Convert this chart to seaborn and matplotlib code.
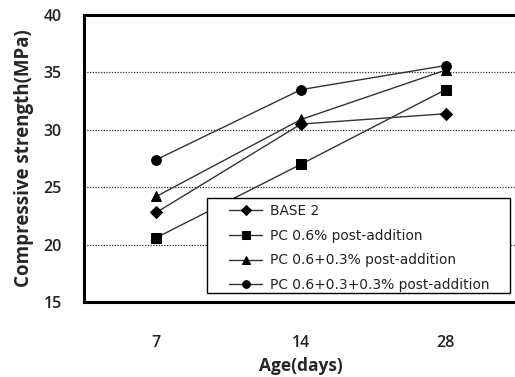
import matplotlib
matplotlib.use("Agg")
import matplotlib.pyplot as plt
from matplotlib.ticker import FixedLocator
from matplotlib.patches import Rectangle
import seaborn as sns
import pandas as pd

ages = ["7", "14", "28"]
series_names = [
    "BASE 2",
    "PC 0.6% post-addition",
    "PC 0.6+0.3% post-addition",
    "PC 0.6+0.3+0.3% post-addition",
]
base2 = [22.8, 30.5, 31.4]
pc06 = [20.6, 27.0, 33.5]
pc06_03 = [24.2, 30.9, 35.2]
pc06_03_03 = [27.4, 33.5, 35.6]
y_ticks = [15, 20, 25, 30, 35, 40]

values = [base2, pc06, pc06_03, pc06_03_03]
rows = []
for name, vals in zip(series_names, values):
    for i, (age, v) in enumerate(zip(ages, vals)):
        rows.append({"pos": i, "age": age, "strength": v, "series": name})
df = pd.DataFrame(rows)

sns.set_style("white")
plt.rcParams["font.family"] = ["Open Sans", "DejaVu Sans"]

W, H = 515, 377
fig = plt.figure(figsize=(W / 100, H / 100), dpi=100)
ax = fig.add_axes([84 / W, 1 - 302 / H, 434 / W, 287 / H])

markers = {series_names[0]: "D", series_names[1]: "s",
           series_names[2]: "^", series_names[3]: "o"}
sizes = {series_names[0]: 6, series_names[1]: 7.5, series_names[2]: 7,
         series_names[3]: 7}
for name in series_names:
    sub = df[df["series"] == name]
    sns.lineplot(data=sub, x="pos", y="strength", ax=ax, color="black",
                 linewidth=1.0, marker=markers[name], markersize=sizes[name],
                 markeredgecolor="black", markerfacecolor="black",
                 label=name, alpha=1.0)
for line in ax.get_lines():
    line.set_color("#333333")
    line.set_markerfacecolor("black")
    line.set_markeredgecolor("black")

ax.set_xlim(-0.5, 2.5)
ax.set_ylim(15, 40)
ax.set_xticks(range(len(ages)))
ax.set_xticklabels(ages)
ax.xaxis.set_minor_locator(FixedLocator([0.5, 1.5]))
ax.set_yticks(y_ticks)

for y in y_ticks[1:-1]:
    ax.axhline(y, color="#333333", linestyle=(0, (1, 1.2)), linewidth=0.9,
               zorder=0)

for side in ["left", "bottom", "top"]:
    ax.spines[side].set_linewidth(2.2)
    ax.spines[side].set_color("black")
ax.spines["right"].set_visible(False)

ax.tick_params(axis="y", which="major", direction="out", length=7, width=1.2,
               labelsize=11.5, pad=9, colors="#222222")
ax.tick_params(axis="x", which="major", direction="inout", length=12, width=1.2,
               labelsize=11.5, pad=18, colors="#222222")
ax.tick_params(axis="x", which="minor", direction="in", length=6, width=1.2)
for lbl in ax.get_xticklabels() + ax.get_yticklabels():
    lbl.set_fontweight("semibold")
    lbl.set_color("#222222")

ax.set_xlabel("Age(days)", fontsize=12.5, fontweight="bold", labelpad=4)
ax.set_ylabel("Compressive strength(MPa)", fontsize=13.5, fontweight="bold",
              labelpad=7)

# legend: white framed panel with the entries placed inside it
handles, labels = ax.get_legend_handles_labels()
ax.get_legend().remove()

box = Rectangle((207 / W, 1 - 293 / H), 303 / W, 95 / H,
                transform=fig.transFigure, facecolor="white",
                edgecolor="black", linewidth=1.0, zorder=5)
fig.patches.append(box)

leg = fig.legend(handles, labels, loc="upper left",
                 bbox_to_anchor=(229 / W, 1 - 204 / H),
                 prop={"family": "DejaVu Sans", "size": 9.9},
                 frameon=False, borderpad=0, labelspacing=0.78,
                 handlelength=2.4, handletextpad=0.55, borderaxespad=0)
leg.set_zorder(6)
for h in leg.legend_handles:
    h.set_markersize(5.5)
for t in leg.get_texts():
    t.set_color("#222222")

fig.savefig("out.png", dpi=100)
